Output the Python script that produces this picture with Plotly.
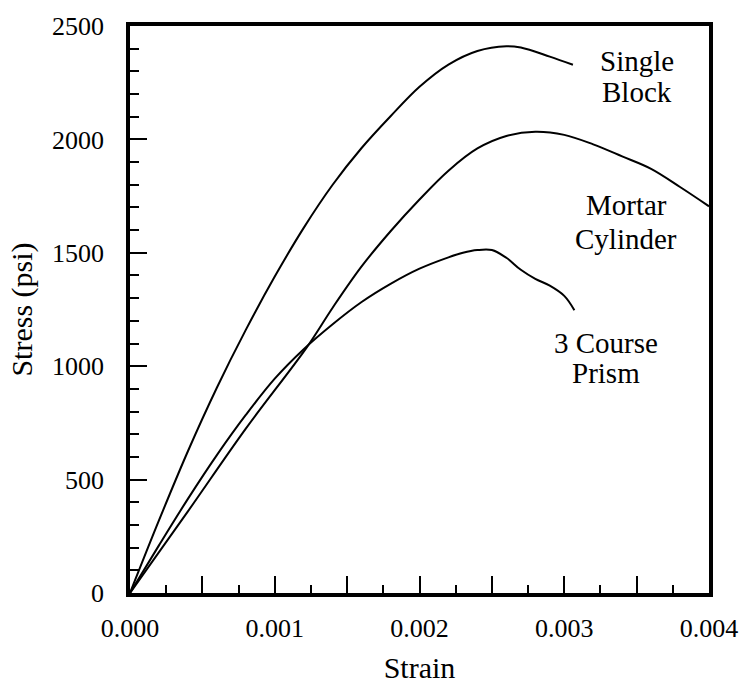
import plotly.graph_objects as go

# Single Block
sb_strain = [0.0, 0.0002, 0.0004, 0.0006, 0.0008, 0.001, 0.0012, 0.0014, 0.0016, 0.0018,
             0.002, 0.0022, 0.0024, 0.0026, 0.0027, 0.0029, 0.00306]
sb_stress = [0, 320, 625, 905, 1160, 1395, 1610, 1800, 1962, 2102,
             2232, 2330, 2390, 2411, 2405, 2365, 2329]

# Mortar Cylinder
mc_strain = [0.0, 0.0004, 0.0008, 0.00122, 0.0014, 0.0016, 0.0018, 0.002, 0.0022, 0.0024,
             0.0026, 0.0028, 0.003, 0.0032, 0.0034, 0.0036, 0.0038, 0.004]
mc_stress = [0, 360, 725, 1082, 1258, 1440, 1595, 1735, 1862, 1960,
             2015, 2034, 2020, 1978, 1925, 1870, 1790, 1705]

# 3 Course Prism
cp_strain = [0.0, 0.0002, 0.0004, 0.0006, 0.0008, 0.001, 0.0012, 0.0014, 0.0016, 0.0018,
             0.002, 0.0022, 0.0023, 0.0024, 0.0025, 0.0026, 0.0027, 0.0028, 0.0029, 0.003, 0.00307]
cp_stress = [0, 210, 415, 608, 785, 945, 1075, 1185, 1283, 1363,
             1430, 1480, 1500, 1512, 1512, 1478, 1425, 1385, 1355, 1310, 1247]

label_lines = ["Single", "Block", "Mortar", "Cylinder", "3 Course", "Prism"]
label_x = [0.00350, 0.00350, 0.00343, 0.00343, 0.00329, 0.00329]
label_y = [2345, 2208, 1710, 1560, 1102, 968]

x_tickvals = [0, 0.0005, 0.001, 0.0015, 0.002, 0.0025, 0.003, 0.0035, 0.004]
x_ticktext = ["0.000", "", "0.001", "", "0.002", "", "0.003", "", "0.004"]
y_tickvals = [0, 500, 1000, 1500, 2000, 2500]

FONT = "Liberation Serif"

fig = go.Figure()
for xs, ys in [(sb_strain, sb_stress), (mc_strain, mc_stress), (cp_strain, cp_stress)]:
    fig.add_trace(go.Scatter(x=xs, y=ys, mode="lines",
                             line=dict(color="black", width=2, shape="spline", smoothing=1.0),
                             showlegend=False, hoverinfo="skip"))

for t, x, y in zip(label_lines, label_x, label_y):
    fig.add_annotation(x=x, y=y, text=t, showarrow=False, xanchor="center", yanchor="middle",
                       font=dict(family=FONT, size=29, color="black"))

fig.update_layout(
    width=750, height=694,
    margin=dict(l=130, r=40, t=16, b=101),
    paper_bgcolor="white", plot_bgcolor="white",
    font=dict(family=FONT, size=26, color="black"),
)
fig.update_xaxes(
    range=[0, 0.004], tickvals=x_tickvals, ticktext=x_ticktext,
    ticks="inside", ticklen=17, tickwidth=2, tickcolor="black",
    minor=dict(dtick=0.00025, ticks="inside", ticklen=8, tickwidth=1.5, tickcolor="black", showgrid=False),
    showline=True, linecolor="black", linewidth=3.5, mirror=True,
    showgrid=False, zeroline=False, ticklabelstandoff=9,
    title=dict(text="Strain", standoff=16, font=dict(family=FONT, size=30)),
)
fig.update_yaxes(
    range=[0, 2500], tickvals=y_tickvals,
    ticks="inside", ticklen=17, tickwidth=2, tickcolor="black",
    minor=dict(dtick=100, ticks="inside", ticklen=9, tickwidth=1.5, tickcolor="black", showgrid=False),
    showline=True, linecolor="black", linewidth=3.5, mirror=True,
    showgrid=False, zeroline=False, ticklabelstandoff=17,
    title=dict(text="Stress (psi)", standoff=12, font=dict(family=FONT, size=30)),
)

fig.write_html("out.html")
